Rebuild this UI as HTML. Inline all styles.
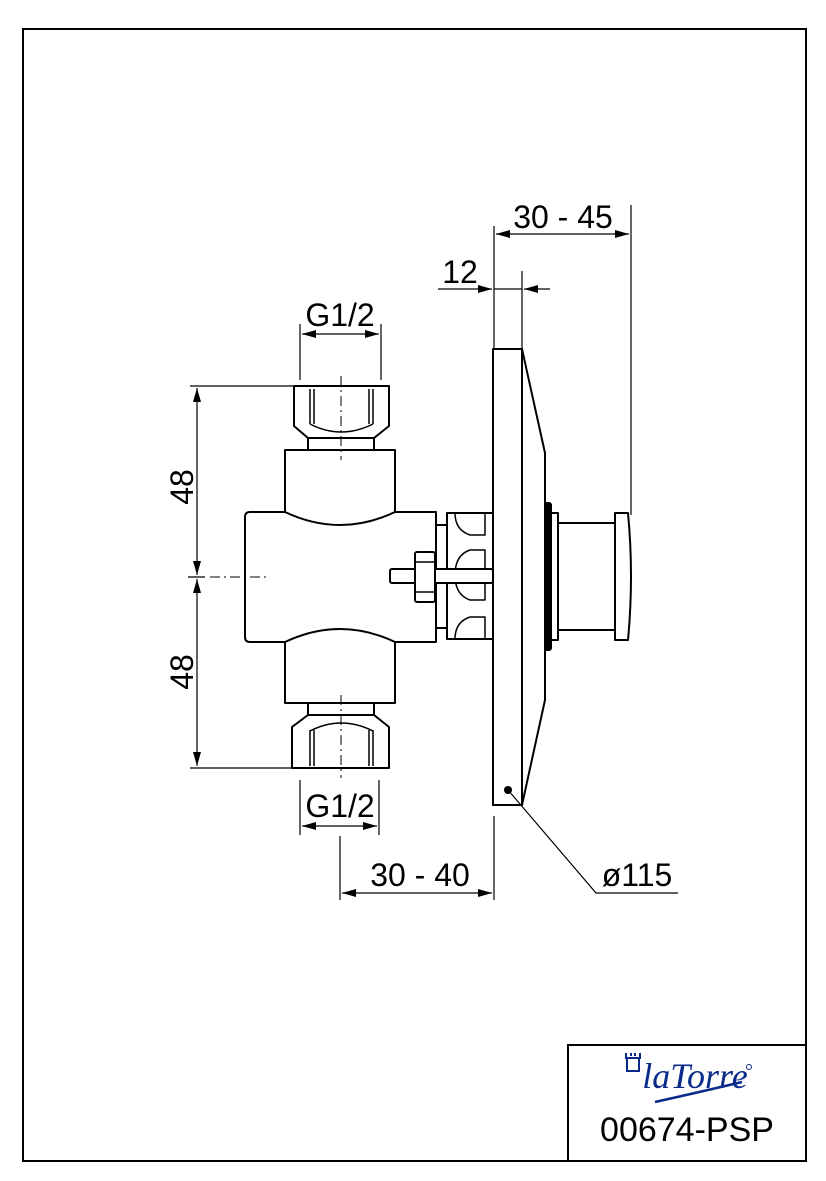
<!DOCTYPE html>
<html><head><meta charset="utf-8"><style>html,body{margin:0;padding:0;background:#fff}svg{display:block}</style></head>
<body>
<svg width="826" height="1181" viewBox="0 0 826 1181" xmlns="http://www.w3.org/2000/svg" font-family="Liberation Sans, sans-serif">
<defs>
<marker id="a" markerWidth="14" markerHeight="8" refX="14" refY="4" orient="auto" markerUnits="userSpaceOnUse"><path d="M0,0 L14,4 L0,8 Z" fill="#000"/></marker>
</defs>
<rect x="23" y="29" width="783" height="1132" fill="none" stroke="#000" stroke-width="2"/>
<rect x="568" y="1045" width="238" height="116" fill="none" stroke="#000" stroke-width="2"/>
<text x="687" y="1141" font-size="34" text-anchor="middle">00674-PSP</text>
<g fill="none" stroke="#0a2a8a" stroke-width="2">
<rect x="627" y="1058" width="12" height="13"/><path d="M626,1053 v5 h14 v-5 M631,1053v3 M635,1053v3"/>
</g>
<text x="695" y="1088" font-size="36" font-style="italic" font-family="Liberation Serif, serif" fill="#0a2a8a" text-anchor="middle">laTorre</text>
<path d="M655,1102 Q700,1092 742,1082" stroke="#0a2a8a" stroke-width="2.5" fill="none"/>
<circle cx="749" cy="1067" r="2.5" fill="none" stroke="#0a2a8a" stroke-width="1"/>

<g stroke="#000" stroke-width="2" fill="#fff" stroke-linejoin="round">
<path d="M294,386 H389 V426 L374,438 H308 L294,426 Z"/>
<path d="M310,389 V424 M314,389 V424 M369,389 V424 M373,389 V424" stroke-width="1.5"/>
<path d="M310,424 Q341,440 373,424" fill="none" stroke-width="1.5"/>
<rect x="308" y="438" width="66" height="12"/>
<path d="M250,512 H285 Q340,538 395,512 H436 V642 H395 Q340,616 285,642 H250 Q245,642 245,637 V517 Q245,512 250,512 Z"/>
<path d="M285,512 V450 H395 V512" fill="none"/>
<path d="M285,642 V703 H395 V642" fill="none"/>
<rect x="308" y="703" width="66" height="12"/>
<path d="M308,715 H374 L389,727 V768 H292 V727 Z"/>
<path d="M310,730 V766 M314,730 V766 M369,730 V766 M373,730 V766" stroke-width="1.5"/>
<path d="M310,731 Q341,715 373,731" fill="none" stroke-width="1.5"/>
<rect x="436" y="525" width="11" height="103"/>
<rect x="447" y="513" width="46" height="126"/>
<path d="M455,513 Q455,530 470,535 H485 V513 M455,639 Q455,622 470,617 H485 V639 M455,575 Q455,555 470,550 H485 V600 H470 Q455,595 455,575" fill="none" stroke-width="1.5"/>
<rect x="390" y="569" width="103" height="14" rx="2"/>
<rect x="415" y="552" width="20" height="50" rx="2"/>
<path d="M415,562 H435 M415,592 H435" stroke-width="1.5"/>
<path d="M522,349 L545,453 V700 L522,805 Z"/>
<rect x="493" y="349" width="29" height="456"/>
<rect x="545" y="503" width="6" height="147" rx="2" fill="#000"/>
<rect x="551" y="513" width="7" height="127"/>
<rect x="558" y="523" width="57" height="107"/>
<path d="M615,513 H628 Q634,576 628,640 H615 Z"/>
</g>
<circle cx="508" cy="790" r="4" fill="#000"/>
<g stroke="#000" stroke-width="1" stroke-dasharray="10,4,2,4">
<path d="M341,376 V460 M341,695 V778 M210,577 H270"/>
</g>
<g stroke="#000" stroke-width="1.2" fill="none">
<path d="M494,226 V349 M631,205 V515 M522,271 V349"/>
<path d="M300,324 V380 M381,324 V380"/>
<path d="M190,386 H294 M188,577 H205 M190,768 H292"/>
<path d="M300,780 V835 M379,780 V835"/>
<path d="M340,836 V900 M494,816 V900"/>
<path d="M562,234 H496" marker-end="url(#a)"/><path d="M562,234 H629" marker-end="url(#a)"/>
<path d="M438,289 H492" marker-end="url(#a)"/><path d="M550,289 H524" marker-end="url(#a)"/><path d="M494,289 H522"/>
<path d="M340,334 H302" marker-end="url(#a)"/><path d="M340,334 H379" marker-end="url(#a)"/>
<path d="M197,480 V388" marker-end="url(#a)"/><path d="M197,480 V575" marker-end="url(#a)"/>
<path d="M197,670 V579" marker-end="url(#a)"/><path d="M197,670 V766" marker-end="url(#a)"/>
<path d="M340,826 H302" marker-end="url(#a)"/><path d="M340,826 H377" marker-end="url(#a)"/>
<path d="M417,893 H342" marker-end="url(#a)"/><path d="M417,893 H492" marker-end="url(#a)"/>
<path d="M508,790 L596,893 H678"/>
</g>
<g font-size="32" fill="#000">
<text x="563" y="228" text-anchor="middle">30 - 45</text>
<text x="460" y="283" text-anchor="middle">12</text>
<text x="340" y="326" text-anchor="middle">G1/2</text>
<text x="340" y="817" text-anchor="middle">G1/2</text>
<text x="420" y="886" text-anchor="middle">30 - 40</text>
<text x="637" y="886" text-anchor="middle">ø115</text>
<text transform="translate(193,487) rotate(-90)" text-anchor="middle">48</text>
<text transform="translate(193,672) rotate(-90)" text-anchor="middle">48</text>
</g>
</svg>
</body></html>
